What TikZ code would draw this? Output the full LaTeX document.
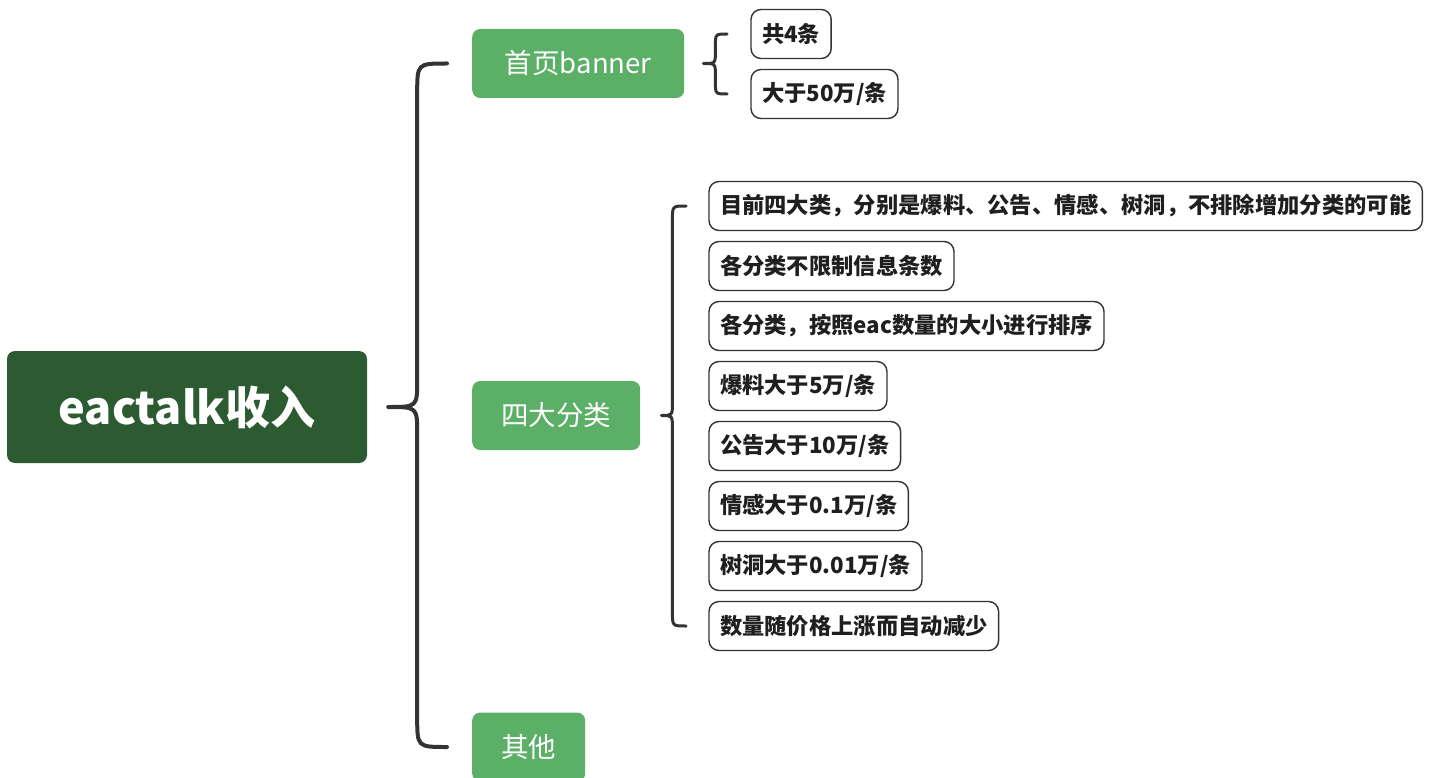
\documentclass[tikz,border=0pt]{standalone}
\usepackage{fontspec}
\setmainfont{Noto Sans CJK SC}
\usepackage{xcolor}
\usetikzlibrary{positioning,calc}
\definecolor{rootgreen}{RGB}{44,91,50}
\definecolor{topicgreen}{RGB}{91,175,102}
\definecolor{linegray}{RGB}{51,51,51}

\begin{document}
\begin{tikzpicture}[x=1pt,y=1pt,
    rootbox/.style={fill=rootgreen,rounded corners=8pt,text=white,font=\fontsize{45}{52}\selectfont\bfseries,
      minimum width=360pt,minimum height=112pt,inner sep=0pt},
    topic/.style={fill=topicgreen,rounded corners=8pt,text=white,font=\fontsize{27.5}{32}\selectfont,
      minimum height=69pt,inner xsep=29pt,inner ysep=0pt},
    leaf/.style={draw=linegray,line width=1.4pt,rounded corners=10pt,fill=white,text=black!88,
      font=\fontsize{22.3}{26}\selectfont\bfseries,minimum height=49pt,inner xsep=11pt,inner ysep=0pt,outer sep=0pt},
    mainbrace/.style={draw=linegray,line width=4pt,line cap=round,line join=round},
    subbrace/.style={draw=linegray,line width=3pt,line cap=round,line join=round}]
    \useasboundingbox (0,0) rectangle (1439,-778);
    \node[rootbox] (root) at (187,-407) {eactalk收入};
    \node[topic, anchor=west, minimum width=212pt] (banner) at (472,-63.5) {首页banner};
    \node[topic, anchor=west] (cat) at (472,-415.5) {四大分类};
    \node[topic, anchor=west] (other) at (472,-747) {其他};
    % banner leaves
    \node[leaf, anchor=west] (count) at (751,-34) {共4条};
    \node[leaf] (price) [below=11pt of count.south west, anchor=north west] {大于50万/条};
    % category leaves
    \node[leaf, anchor=west] (c1) at (709,-206) {目前四大类，分别是爆料、公告、情感、树洞，不排除增加分类的可能};
    \node[leaf] (c2) [below=11pt of c1.south west, anchor=north west] {各分类不限制信息条数};
    \node[leaf] (c3) [below=11pt of c2.south west, anchor=north west] {各分类，按照eac数量的大小进行排序};
    \node[leaf] (c4) [below=11pt of c3.south west, anchor=north west] {爆料大于5万/条};
    \node[leaf] (c5) [below=11pt of c4.south west, anchor=north west] {公告大于10万/条};
    \node[leaf] (c6) [below=11pt of c5.south west, anchor=north west] {情感大于0.1万/条};
    \node[leaf] (c7) [below=11pt of c6.south west, anchor=north west] {树洞大于0.01万/条};
    \node[leaf] (c8) [below=11pt of c7.south west, anchor=north west] {数量随价格上涨而自动减少};
    % braces
    \draw[mainbrace] let \p1=([xshift=21pt]root.east), \p2=([xshift=-25pt]banner.west), \p3=([xshift=-25pt]other.west) in
        (\p2) .. controls (\x1+29pt,\y2) .. (\x1+29pt,\y2-30pt)
        -- (\x1+29pt,\y1+27pt) .. controls (\x1+29pt,\y1) .. (\p1)
        .. controls (\x1+29pt,\y1) .. (\x1+29pt,\y1-27pt)
        -- (\x1+29pt,\y3+30pt) .. controls (\x1+29pt,\y3) .. (\p3);
    \draw[subbrace] let \p1=([xshift=19pt]banner.east), \p2=([xshift=-24pt]count.west), \p3=([xshift=-24pt]price.west) in
        (\p2) .. controls (\x1+12pt,\y2) .. (\x1+12pt,\y2-12pt)
        -- (\x1+12pt,\y1+12pt) .. controls (\x1+12pt,\y1) .. (\p1)
        .. controls (\x1+12pt,\y1) .. (\x1+12pt,\y1-12pt)
        -- (\x1+12pt,\y3+12pt) .. controls (\x1+12pt,\y3) .. (\p3);
    \draw[subbrace] let \p1=([xshift=21pt]cat.east), \p2=([xshift=-23pt]c1.west), \p3=([xshift=-23pt]c8.west) in
        (\p2) .. controls (\x1+11pt,\y2) .. (\x1+11pt,\y2-14pt)
        -- (\x1+11pt,\y1+13pt) .. controls (\x1+11pt,\y1) .. (\p1)
        .. controls (\x1+11pt,\y1) .. (\x1+11pt,\y1-13pt)
        -- (\x1+11pt,\y3+14pt) .. controls (\x1+11pt,\y3) .. (\p3);
\end{tikzpicture}
\end{document}
